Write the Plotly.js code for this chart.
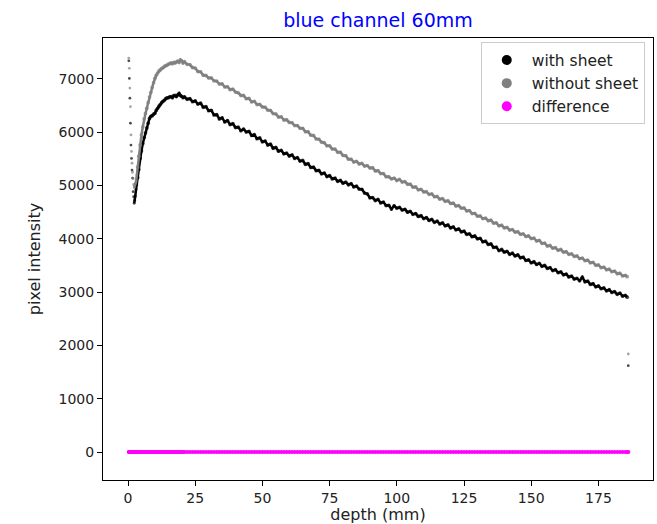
<!DOCTYPE html>
<html>
<head>
<meta charset="utf-8">
<script src="https://cdn.plot.ly/plotly-3.0.1.min.js"></script>
<style>html,body{margin:0;padding:0;background:#fff;}#chart{width:657px;height:524px;}</style>
</head>
<body>
<div id="chart"></div>
<script>
// depth positions (mm)
const depth = [
0.3,0.5,0.7,0.9,1.1,1.3,1.5,1.7,1.9,2.1,2.3,2.5,2.7,3.0,3.3,3.6,
4.0,4.5,5.0,5.5,6.0,6.5,7.0,7.5,8.0,8.5,9.0,9.5,10.0,10.5,11.0,11.5,12.0,12.5,13.0,13.5,14.0,14.5,15.0,15.5,16.0,16.5,17.0,17.5,18.0,18.5,19.0,19.5,20.0,20.5,
21,22,23,24,25,26,27,28,29,30,
31,32,33,34,35,36,37,38,39,40,
41,42,43,44,45,46,47,48,49,50,
51,52,53,54,55,56,57,58,59,60,
61,62,63,64,65,66,67,68,69,70,
71,72,73,74,75,76,77,78,79,80,
81,82,83,84,85,86,87,88,89,90,
91,92,93,94,95,96,97,98,99,100,
101,102,103,104,105,106,107,108,109,110,
111,112,113,114,115,116,117,118,119,120,
121,122,123,124,125,126,127,128,129,130,
131,132,133,134,135,136,137,138,139,140,
141,142,143,144,145,146,147,148,149,150,
151,152,153,154,155,156,157,158,159,160,
161,162,163,164,165,166,167,168,169,170,
171,172,173,174,175,176,177,178,179,180,
181,182,183,184,185,185.7,186.1
];

// pixel intensity with sheet
const withSheet = [
7340,7010,6640,6170,5760,5510,5290,5140,4885,4790,4667,4720,4800,4930,5011,5150,
5300,5511,5650,5790,5900,5990,6080,6170,6260,6300,6310,6340,6356,6410,6450,6490,6520,6555,6580,6600,6630,6645,6650,6665,6670,6650,6685,6690,6670,6700,6730,6690,6675,6650,
6665,6620,6630,6575,6590,6530,6545,6470,6480,6405,
6410,6325,6330,6250,6270,6195,6220,6145,6160,6090,
6095,6030,6060,6005,6015,5940,5955,5880,5895,5820,
5835,5760,5775,5700,5715,5645,5660,5595,5610,5555,
5575,5510,5525,5460,5470,5400,5410,5340,5345,5280,
5285,5220,5235,5170,5185,5125,5140,5080,5095,5045,
5065,5015,5035,4975,4990,4935,4930,4860,4845,4770,
4775,4720,4740,4675,4690,4625,4630,4560,4620,4575,
4590,4540,4555,4500,4515,4460,4475,4420,4435,4380,
4400,4345,4365,4310,4330,4280,4300,4245,4260,4205,
4225,4170,4185,4130,4145,4085,4095,4040,4055,4000,
4010,3945,3955,3895,3905,3840,3845,3780,3800,3750,
3765,3710,3730,3680,3700,3645,3655,3595,3605,3550,
3570,3520,3540,3485,3500,3445,3460,3405,3420,3365,
3380,3325,3340,3285,3300,3245,3260,3215,3280,3195,
3205,3145,3160,3100,3115,3065,3080,3025,3045,2995,
3010,2960,2980,2925,2940,2905,1620
];

// pixel intensity without sheet
const withoutSheet = [
7390,7200,6830,6480,5950,5640,5420,5250,5130,5020,4960,5000,5040,5073,5200,5350,
5550,5761,5950,6100,6250,6350,6450,6560,6660,6750,6840,6930,7013,7070,7110,7150,7170,7195,7210,7235,7250,7260,7280,7290,7300,7285,7310,7300,7320,7335,7310,7360,7338,7300,
7325,7275,7270,7215,7205,7140,7135,7070,7065,7020,
7020,6965,6960,6905,6910,6850,6855,6800,6810,6755,
6740,6690,6690,6630,6635,6570,6580,6520,6525,6475,
6470,6415,6410,6350,6345,6285,6290,6230,6235,6185,
6180,6125,6125,6075,6075,6010,6010,5945,5940,5875,
5870,5815,5805,5745,5745,5685,5685,5625,5625,5565,
5560,5495,5495,5440,5455,5405,5415,5365,5375,5330,
5335,5275,5280,5225,5225,5165,5165,5125,5140,5095,
5115,5065,5075,5025,5025,4970,4975,4920,4930,4880,
4885,4835,4845,4790,4795,4745,4755,4705,4715,4665,
4670,4615,4625,4575,4580,4525,4530,4475,4480,4425,
4430,4380,4390,4340,4350,4295,4300,4245,4255,4205,
4215,4165,4175,4125,4135,4085,4095,4045,4055,4005,
4015,3960,3970,3915,3920,3865,3875,3825,3835,3785,
3800,3750,3760,3710,3720,3670,3680,3630,3640,3590,
3600,3550,3560,3505,3510,3460,3470,3420,3430,3385,
3395,3345,3355,3305,3315,3290,1839
];

// difference
const difference = [
0,0,0,0,0,0,0,0,0,0,0,0,0,0,0,0,0,0,0,0,0,0,0,0,0,0,0,0,0,0,0,
0,0,0,0,0,0,0,0,0,0,0,0,0,0,0,0,0,0,0,0,0,0,0,0,0,0,0,0,0,0,0,
0,0,0,0,0,0,0,0,0,0,0,0,0,0,0,0,0,0,0,0,0,0,0,0,0,0,0,0,0,0,0,
0,0,0,0,0,0,0,0,0,0,0,0,0,0,0,0,0,0,0,0,0,0,0,0,0,0,0,0,0,0,0,
0,0,0,0,0,0,0,0,0,0,0,0,0,0,0,0,0,0,0,0,0,0,0,0,0,0,0,0,0,0,0,
0,0,0,0,0,0,0,0,0,0,0,0,0,0,0,0,0,0,0,0,0,0,0,0,0,0,0,0,0,0,0,
0,0,0,0,0,0,0,0,0,0,0,0,0,0,0,0,0,0,0,0,0,0,0,0,0,0,0,0,0,0,0
];

const seriesNames = ['with sheet', 'without sheet', 'difference'];
const seriesColors = ['#000000', '#808080', '#ff00ff'];
const xTicks = [0, 25, 50, 75, 100, 125, 150, 175];
const yTicks = [0, 1000, 2000, 3000, 4000, 5000, 6000, 7000];

const ys = [withSheet, withoutSheet, difference];
// smaller dots where the samples stand alone (steep start, stray end points)
const dotSize = depth.map(d => (d < 3.5 || d > 186) ? 2.8 : 3.8);
// densely sampled stretch (from the minimum to the last regular sample) drawn as a thin band
const bandStart = 10, bandEnd = depth.length - 1;
const traces = [];
ys.forEach((y, i) => {
  if (i < 2) {
    traces.push({
      type: 'scatter', mode: 'lines',
      x: depth.slice(bandStart, bandEnd), y: y.slice(bandStart, bandEnd),
      showlegend: false, hoverinfo: 'skip',
      line: {color: seriesColors[i], width: 2.5}
    });
  }
  traces.push({
    type: 'scatter', mode: 'markers', x: depth, y: y,
    name: seriesNames[i], showlegend: false, hoverinfo: 'skip',
    marker: {color: seriesColors[i], size: i === 2 ? 4.2 : dotSize, line: {width: 0}}
  });
});
seriesNames.forEach((n, i) => {
  traces.push({
    type: 'scatter', mode: 'markers', x: [null], y: [null],
    name: n, legendgroup: 'g' + i, showlegend: true,
    marker: {color: seriesColors[i], size: 10}
  });
});

const axisCommon = {
  ticks: 'outside', ticklen: 5, tickwidth: 1, tickcolor: '#000',
  showline: true, linecolor: '#000', linewidth: 1, mirror: true,
  showgrid: false, zeroline: false,
  tickfont: {family: 'DejaVu Sans', size: 14, color: '#222'}
};

const layout = {
  width: 657, height: 524,
  margin: {l: 103, r: 4, t: 38, b: 44, pad: 0},
  paper_bgcolor: '#fff', plot_bgcolor: '#fff',
  font: {family: 'DejaVu Sans', size: 14, color: '#222'},
  title: {text: 'blue channel 60mm', font: {family: 'DejaVu Sans', size: 19, color: '#0000ff'},
          x: 0.5, xref: 'paper', xanchor: 'center', y: 1 - 20 / 524, yref: 'container', yanchor: 'middle'},
  xaxis: Object.assign({}, axisCommon, {
    range: [-9.3, 195.3], tickmode: 'array', tickvals: xTicks,
    title: {text: 'depth (mm)', font: {size: 16}, standoff: 0}
  }),
  yaxis: Object.assign({}, axisCommon, {
    range: [-525, 7769], tickmode: 'array', tickvals: yTicks,
    title: {text: 'pixel intensity', font: {size: 16}, standoff: 13}
  }),
  legend: {
    x: 0.985, xanchor: 'right', y: 0.99, yanchor: 'top',
    bgcolor: '#fff', bordercolor: '#cccccc', borderwidth: 1,
    font: {family: 'DejaVu Sans', size: 15.5, color: '#222'},
    tracegroupgap: 0, itemwidth: 40
  },
  showlegend: true
};

Plotly.newPlot('chart', traces, layout, {displayModeBar: false, staticPlot: true});
</script>
</body>
</html>
